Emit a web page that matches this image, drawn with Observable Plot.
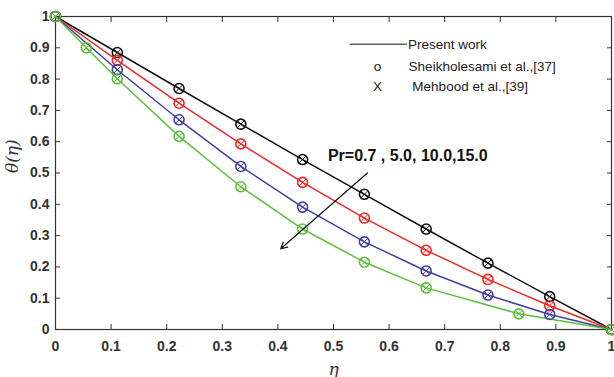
<!DOCTYPE html>
<html>
<head>
<meta charset="utf-8">
<script src="https://cdn.jsdelivr.net/npm/d3@7"></script>
<script src="https://cdn.jsdelivr.net/npm/@observablehq/plot@0.6"></script>
<style>
  html, body { margin: 0; padding: 0; background: #fff; }
  #chart { width: 614px; height: 377px; }
</style>
</head>
<body>
<div id="chart"></div>
<script>
const etaMain = [0, 1/9, 2/9, 3/9, 4/9, 5/9, 6/9, 7/9, 8/9, 1];
const thetaPr07 = [1, 0.885, 0.770, 0.656, 0.543, 0.432, 0.321, 0.212, 0.105, 0];
const thetaPr5 = [1, 0.860, 0.723, 0.593, 0.470, 0.356, 0.253, 0.160, 0.076, 0];
const thetaPr10 = [1, 0.830, 0.670, 0.521, 0.391, 0.280, 0.187, 0.110, 0.048, 0];
const etaPr15 = [0, 1/18, 1/9, 2/9, 3/9, 4/9, 5/9, 6/9, 5/6, 1];
const thetaPr15 = [1, 0.900, 0.801, 0.617, 0.456, 0.321, 0.215, 0.133, 0.050, 0];
const seriesNames = ["Pr=0.7", "Pr=5.0", "Pr=10.0", "Pr=15.0"];
const seriesColors = ["#111111", "#f02828", "#3f3fa6", "#5cc03c"];
const xTicks = [0, 0.1, 0.2, 0.3, 0.4, 0.5, 0.6, 0.7, 0.8, 0.9, 1];
const yTicks = [0, 0.1, 0.2, 0.3, 0.4, 0.5, 0.6, 0.7, 0.8, 0.9, 1];
const legendLabels = ["Present work", "Sheikholesami et al.,[37]", " Mehbood et al.,[39]"];
const annotationText = "Pr=0.7 , 5.0, 10.0,15.0";

const rows = [];
[[etaMain, thetaPr07], [etaMain, thetaPr5], [etaMain, thetaPr10], [etaPr15, thetaPr15]].forEach(([xs, ys], i) => {
  xs.forEach((x, j) => rows.push({series: seriesNames[i], eta: x, theta: ys[j]}));
});

const fmt = d => (d === 0 || d === 1) ? String(d) : d.toFixed(1);
const font = "Liberation Sans, Arial, sans-serif";

const chart = Plot.plot({
  width: 614,
  height: 377,
  marginLeft: 55,
  marginRight: 3,
  marginTop: 16,
  marginBottom: 48,
  style: {fontFamily: font, background: "#fff"},
  x: {domain: [0, 1]},
  y: {domain: [0, 1]},
  color: {domain: seriesNames, range: seriesColors},
  marks: [
    Plot.frame({stroke: "#333", strokeWidth: 1.2}),
    Plot.axisX(xTicks, {anchor: "bottom", tickSize: -5, tickFormat: fmt, fontSize: 14, fontWeight: "bold", fill: "#333", stroke: "#333", tickPadding: 17, label: null}),
    Plot.axisX(xTicks, {anchor: "top", tickSize: -5, tickFormat: () => "", stroke: "#333", label: null}),
    Plot.axisY(yTicks, {anchor: "left", tickSize: -5, tickFormat: fmt, fontSize: 14, fontWeight: "bold", fill: "#333", stroke: "#333", tickPadding: 11, label: null}),
    Plot.axisY(yTicks, {anchor: "right", tickSize: -5, tickFormat: () => "", stroke: "#333", label: null}),
    Plot.line(rows, {x: "eta", y: "theta", z: "series", stroke: "series", strokeWidth: 1.5}),
    Plot.dot(rows, {x: "eta", y: "theta", stroke: "series", r: 5, strokeWidth: 1.6, fill: "none"}),
    Plot.dot(rows, {x: "eta", y: "theta", stroke: "series", symbol: "times", r: 3, strokeWidth: 1}),
    Plot.text([annotationText], {x: 0.49, y: 0.555, text: d => d, fontSize: 16, fontWeight: "bold", textAnchor: "start", fill: "#111"}),
    Plot.arrow([0], {x1: 0.561, y1: 0.50, x2: 0.405, y2: 0.258, stroke: "#111", strokeWidth: 1.2, headLength: 9, headAngle: 55}),
    Plot.text(["η"], {frameAnchor: "bottom", dy: 45, text: d => d, fontSize: 17, fontStyle: "italic", fontFamily: "DejaVu Serif, serif", fill: "#333"}),
    Plot.text(["θ(η)"], {frameAnchor: "left", dx: -43, rotate: -90, text: d => d, fontSize: 17, fontStyle: "italic", fontFamily: "DejaVu Serif, serif", fill: "#333"})
  ]
});

// legend inside plot (top right), positioned via the chart's own scales
const sx = chart.scale("x"), sy = chart.scale("y");
const svg = d3.select(chart);
const lx0 = sx.apply(0.53), lx1 = sx.apply(0.633), ly = sy.apply(0.91);
const lg = svg.append("g").attr("font-family", font).attr("font-size", 13.5).attr("fill", "#222").attr("text-anchor", "start");
lg.append("line").attr("x1", lx0).attr("x2", lx1).attr("y1", ly).attr("y2", ly).attr("stroke", "#111").attr("stroke-width", 1);
lg.append("text").attr("x", lx1 + 1).attr("y", ly + 5).text(legendLabels[0]);
lg.append("text").attr("x", sx.apply(0.58)).attr("y", sy.apply(0.84) + 5).attr("text-anchor", "middle").text("o");
lg.append("text").attr("x", sx.apply(0.636)).attr("y", sy.apply(0.84) + 5).text(legendLabels[1]);
lg.append("text").attr("x", sx.apply(0.58)).attr("y", sy.apply(0.775) + 5).attr("text-anchor", "middle").text("X");
lg.append("text").attr("x", sx.apply(0.636)).attr("y", sy.apply(0.775) + 5).text(legendLabels[2]);

document.getElementById("chart").append(chart);
</script>
</body>
</html>
